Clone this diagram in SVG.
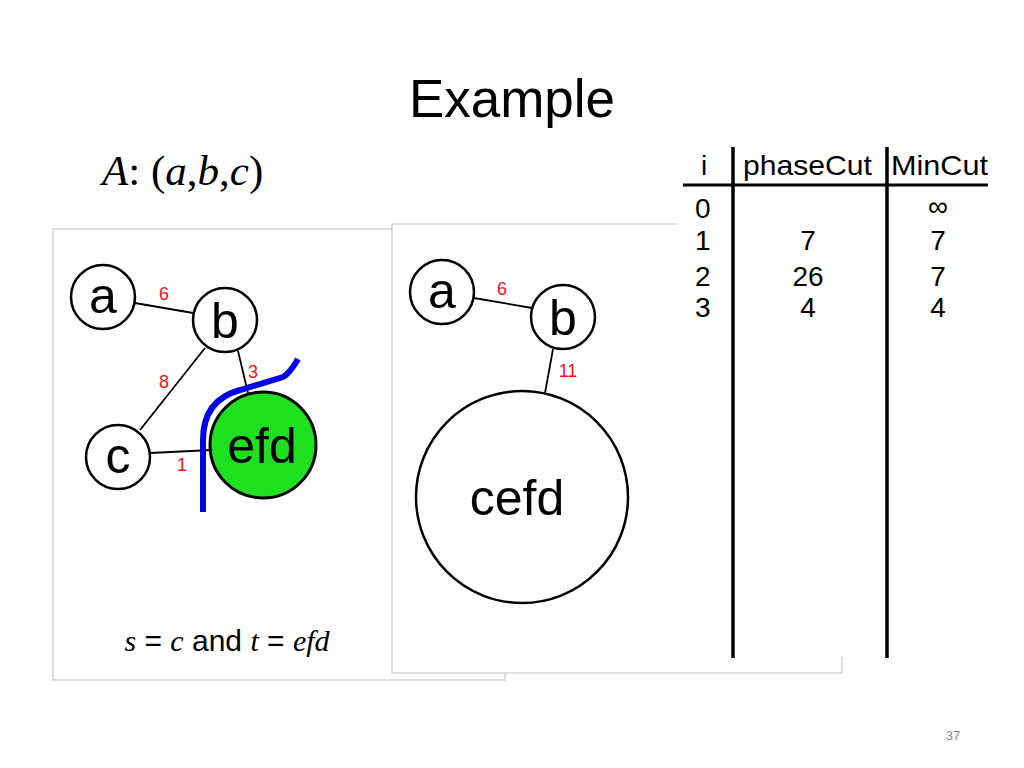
<svg xmlns="http://www.w3.org/2000/svg" width="1024" height="768" viewBox="0 0 1024 768">
<style>
.panel{fill:#fff;stroke:#c8c8c8;stroke-width:1.2}
.node{fill:#fff;stroke:#000;stroke-width:2.5}
.lbl{font-family:"Liberation Sans",Arial,sans-serif;fill:#000;text-anchor:middle}
.w{font-family:"Liberation Sans",Arial,sans-serif;font-size:18px;fill:#e8141c;text-anchor:middle}
.edge{stroke:#000;stroke-width:1.8;fill:none}
.tab{font-family:"Liberation Sans",Arial,sans-serif;font-size:28px;fill:#000}
.ser{font-family:"Liberation Serif","Times New Roman",serif}
.it{font-style:italic}
</style>
<rect width="1024" height="768" fill="#fff"/>
<text x="512" y="117" class="lbl" font-size="53">Example</text>
<text x="102" y="185" class="ser" font-size="43"><tspan class="it">A</tspan>: (<tspan class="it">a</tspan>,<tspan class="it">b</tspan>,<tspan class="it">c</tspan>)</text>

<g id="panel-left">
<rect class="panel" x="53" y="229" width="452" height="451"/>
</g>
<g id="panel-right">
<rect class="panel" x="392" y="224" width="450" height="449"/>
</g>
<rect x="676" y="140" width="330" height="517" fill="#fff"/>

<g id="connectors">
<line class="edge" x1="135" y1="303" x2="193" y2="313"/>
<line class="edge" x1="140" y1="430" x2="205" y2="348"/>
<line class="edge" x1="150" y1="453" x2="212" y2="450"/>
<line class="edge" x1="238" y1="351" x2="248" y2="393"/>
<line class="edge" x1="474" y1="298" x2="532" y2="308"/>
<line class="edge" x1="553" y1="349" x2="545" y2="393"/>
<path d="M203,512 L203,440 Q203,400 240,390 L283,377 Q290,373 298,359" fill="none" stroke="#0000e6" stroke-width="6"/>
</g>
<text class="w" x="164" y="300">6</text>
<text class="w" x="164" y="388">8</text>
<text class="w" x="253" y="378">3</text>
<text class="w" x="182" y="471">1</text>
<text class="w" x="502" y="295">6</text>
<text class="w" x="568" y="377">11</text>

<g id="node-a1"><circle class="node" cx="103" cy="297" r="32"/><text class="lbl" x="103" y="313" font-size="50">a</text></g>
<g id="node-b1"><circle class="node" cx="225" cy="320" r="32"/><text class="lbl" x="225" y="338" font-size="50">b</text></g>
<g id="node-c1"><circle class="node" cx="118" cy="457" r="32"/><text class="lbl" x="118" y="473" font-size="50">c</text></g>
<g id="node-efd"><circle cx="263" cy="445" r="53" fill="#1fe01f" stroke="#000" stroke-width="3"/><text class="lbl" x="262" y="463" font-size="50">efd</text></g>

<g id="node-a2"><circle class="node" cx="442" cy="292" r="32"/><text class="lbl" x="442" y="308" font-size="50">a</text></g>
<g id="node-b2"><circle class="node" cx="563" cy="317" r="32"/><text class="lbl" x="563" y="335" font-size="50">b</text></g>
<g id="node-cefd"><circle class="node" cx="522" cy="497" r="106"/><text class="lbl" x="517" y="515" font-size="50">cefd</text></g>

<text x="227" y="651" font-size="30" text-anchor="middle"><tspan class="ser it">s</tspan><tspan font-family="Liberation Sans,sans-serif"> = </tspan><tspan class="ser it">c</tspan><tspan font-family="Liberation Sans,sans-serif"> and </tspan><tspan class="ser it">t</tspan><tspan font-family="Liberation Sans,sans-serif"> = </tspan><tspan class="ser it">efd</tspan></text>

<g id="table">
<line x1="683" y1="185" x2="988" y2="185" stroke="#000" stroke-width="3"/>
<line x1="733" y1="147" x2="733" y2="658" stroke="#000" stroke-width="3.5"/>
<line x1="887" y1="147" x2="887" y2="658" stroke="#000" stroke-width="3.5"/>
<text class="tab" x="704" y="175" text-anchor="middle">i</text>
<text class="tab" x="743" y="175" textLength="129" lengthAdjust="spacingAndGlyphs">phaseCut</text>
<text class="tab" x="891" y="175" textLength="97" lengthAdjust="spacingAndGlyphs">MinCut</text>
<text class="tab" x="695" y="218">0</text>
<text class="tab" x="695" y="250">1</text>
<text class="tab" x="695" y="286">2</text>
<text class="tab" x="695" y="317">3</text>
<text class="tab" x="808" y="250" text-anchor="middle">7</text>
<text class="tab" x="808" y="286" text-anchor="middle">26</text>
<text class="tab" x="808" y="317" text-anchor="middle">4</text>
<text class="tab" x="938" y="216" text-anchor="middle">∞</text>
<text class="tab" x="938" y="250" text-anchor="middle">7</text>
<text class="tab" x="938" y="286" text-anchor="middle">7</text>
<text class="tab" x="938" y="317" text-anchor="middle">4</text>
</g>
<text x="953" y="740" font-family="Liberation Sans,sans-serif" font-size="13" fill="#888" text-anchor="middle">37</text>
</svg>
